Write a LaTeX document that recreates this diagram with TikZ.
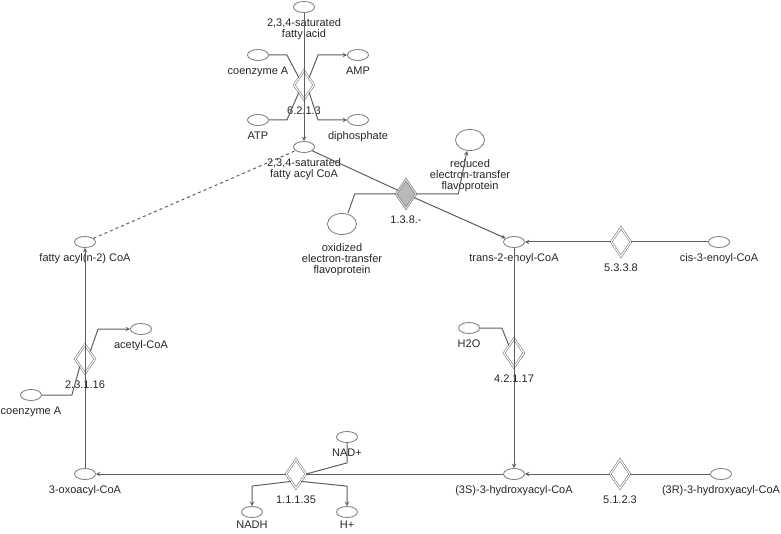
\documentclass[tikz,border=0pt]{standalone}
\usepackage{fontspec}
\setmainfont{Liberation Sans}
\usetikzlibrary{shapes,arrows,positioning}
\definecolor{linegray}{HTML}{5E5E5E}
\definecolor{rimgray}{HTML}{7A7A7A}

\begin{document}
\begin{tikzpicture}[x=1pt, y=-1pt,
  lbl/.style={font=\fontsize{11}{11}\selectfont, align=center, inner sep=0.5pt, text=black!85, yshift=-5pt},
  elbl/.style={lbl, yshift=-1.5pt},
  plbl/.style={lbl, yshift=-3pt},
  blbl/.style={lbl, yshift=2.5pt},
  mol/.style={ellipse, draw=rimgray, line width=0.8pt, fill=white, minimum width=21pt, minimum height=11pt, inner sep=0pt},
  prot/.style={mol, minimum width=29pt, minimum height=21pt},
  enz/.style={diamond, draw=rimgray, line width=0.6pt, double=white, double distance=1.1pt, minimum width=20pt, minimum height=29pt, inner sep=0pt},
  enzfill/.style={enz, fill=gray!55, double=gray!30},
  link/.style={draw=linegray, line width=1pt},
  arrow/.style={link, ->, >=stealth}
]
\useasboundingbox (0,0) rectangle (781,534);

% Activation
\node[mol, label={[lbl]below:2,3,4-saturated\\fatty acid}] (sfa) at (304,7) {};
\node[mol, label={[lbl]below:coenzyme A}] (coa1) at (258,55) {};
\node[mol, label={[lbl]below:AMP}] (amp) at (358,55) {};
\node[enz, label={[elbl]below:6.2.1.3}] (r1) at (304,85) {};
\node[mol, label={[lbl]below:ATP}] (atp) at (258,120) {};
\node[mol, label={[lbl]below:diphosphate}] (dip) at (358,120) {};
\node[mol, label={[lbl]below:2,3,4-saturated\\fatty acyl CoA}] (sfacoa) at (304,147) {};

% Dehydrogenation
\node[enzfill, label={[elbl]below:1.3.8.-}] (r2) at (406,194) {};
\node[prot, label={[plbl]below:reduced\\electron-transfer\\flavoprotein}] (red) at (470,140) {};
\node[prot, label={[plbl]below:oxidized\\electron-transfer\\flavoprotein}] (ox) at (342,224) {};

% Isomerase
\node[mol, label={[lbl]below:trans-2-enoyl-CoA}] (trans2) at (514,242) {};
\node[enz, label={[elbl]below:5.3.3.8}] (r3) at (621,242) {};
\node[mol, label={[lbl]below:cis-3-enoyl-CoA}] (cis3) at (719,242) {};

% Hydration
\node[mol, label={[lbl]below:H2O}] (h2o) at (469,328) {};
\node[enz, label={[elbl]below:4.2.1.17}] (r4) at (514,353) {};
\node[mol, label={[lbl]below:(3S)-3-hydroxyacyl-CoA}] (hyd3s) at (514,474) {};
\node[enz, label={[elbl]below:5.1.2.3}] (r5) at (620,474) {};
\node[mol, label={[lbl]below:(3R)-3-hydroxyacyl-CoA}] (hyd3r) at (721,474) {};

% Oxidation
\node[enz, label={[elbl]below:1.1.1.35}] (r6) at (296,474) {};
\node[mol, label={[lbl]below:NAD+}] (nad) at (347,437) {};
\node[mol, label={[blbl]below:NADH}] (nadh) at (252,512) {};
\node[mol, label={[blbl]below:H+}] (hplus) at (347,512) {};
\node[mol, label={[lbl]below:3-oxoacyl-CoA}] (oxo) at (85,474) {};

% Thiolysis
\node[enz, label={[elbl]below:2.3.1.16}] (r7) at (85,359) {};
\node[mol, label={[lbl]below:fatty acyl(n-2) CoA}] (fa2) at (85,242) {};
\node[mol, label={[lbl]below:acetyl-CoA}] (acet) at (141,329) {};
\node[mol, label={[lbl]below:coenzyme A}] (coa2) at (31,395) {};

\draw[link] (sfa) -- (r1.center);
\draw[arrow] (r1.center) -- (sfacoa);
\draw[link] (coa1.east) -- ++(18,0) -- (r1.north west);
\draw[link] (atp.east) -- ++(18,0) -- (r1.south west);
\draw[arrow] (r1.north east) -- ([xshift=-29pt]amp.west) -- (amp.west);
\draw[arrow] (r1.south east) -- ([xshift=-29pt]dip.west) -- (dip.west);

\draw[link] (sfacoa) -- (r2);
\draw[arrow] (r2) -- (trans2);
\draw[link] ([xshift=6pt]ox.north) -- ([xshift=-41pt]r2.west) -- (r2.west);
\draw[arrow] (r2.east) -- ++(42,0) -- ([xshift=-3pt]red.south);

\draw[link] (cis3) -- (r3);
\draw[arrow] (r3) -- (trans2);

\draw[link] (trans2) -- (r4.center);
\draw[arrow] (r4.center) -- (hyd3s);
\draw[link] (h2o.east) -- ++(22,0) -- (r4.north west);

\draw[link] (hyd3r) -- (r5);
\draw[arrow] (r5) -- (hyd3s);

\draw[link] (hyd3s) -- (r6);
\draw[arrow] (r6) -- (oxo);
\draw[link] (nad.south) -- ++(0,20) -- (r6.east);
\draw[arrow] (r6.south west) -- ([yshift=20pt]nadh.north) -- (nadh.north);
\draw[arrow] (r6.south east) -- ([yshift=20pt]hplus.north) -- (hplus.north);

\draw[link] (oxo) -- (r7.center);
\draw[arrow] (r7.center) -- (fa2);
\draw[arrow] (r7.north east) -- ([xshift=-32pt]acet.west) -- (acet.west);
\draw[link] (coa2.east) -- ++(30,0) -- (r7.south west);

\draw[link, dashed] (fa2) -- (sfacoa);
\end{tikzpicture}
\end{document}
